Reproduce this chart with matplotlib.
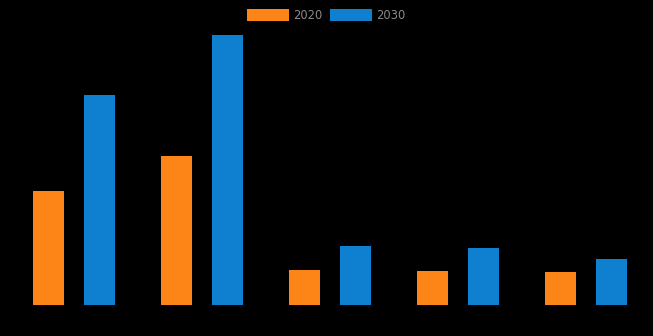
import matplotlib
matplotlib.use("Agg")
import matplotlib.pyplot as plt
import numpy as np

categories = ["A", "B", "C", "D", "E"]
series_names = ["2020", "2030"]
values_2020 = [11.4, 14.9, 3.5, 3.4, 3.3]
values_2030 = [21.0, 27.0, 5.9, 5.7, 4.6]
colors = ["#fd8416", "#0f80cf"]

fig = plt.figure(figsize=(6.53, 3.36), dpi=100, facecolor="black")
ax = fig.add_axes([0, 0, 1, 1])
ax.set_facecolor("black")
x = np.arange(len(categories))
w = 0.242
off = 0.199
ax.bar(x - off, values_2020, w, color=colors[0], label=series_names[0])
ax.bar(x + off, values_2030, w, color=colors[1], label=series_names[1])
ax.set_xlim(-0.578, 4.523)
ax.set_ylim(-3.1, 30.5)
ax.axis("off")

leg = fig.legend(loc="upper center", bbox_to_anchor=(0.5, 1.005), ncol=2, frameon=False,
                 fontsize=8.3, handlelength=3.6, handleheight=1.2, columnspacing=0.65,
                 handletextpad=0.4, labelcolor="#8a8a8a")
fig.savefig("out.png", dpi=100, facecolor="black")
